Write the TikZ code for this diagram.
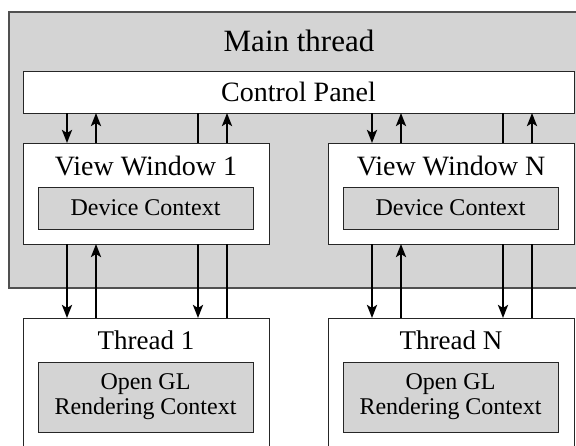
\documentclass[tikz,border=0pt]{standalone}
\usepackage{fontspec}
\setmainfont{Liberation Serif}
\usetikzlibrary{arrows.meta}
\definecolor{panelgray}{RGB}{212,212,212}
\definecolor{edgegray}{RGB}{80,80,80}
\newcommand{\sz}[1]{\fontsize{#1}{#1}\selectfont}

\begin{document}
\begin{tikzpicture}[
        x=1pt, y=-1pt,
        every node/.style={inner sep=0pt, outer sep=0pt},
        outerbox/.style={draw=edgegray, line width=1.6pt, fill=panelgray, anchor=north west},
        whitebox/.style={draw=black!85, line width=1pt, fill=white, anchor=north west},
        graybox/.style={draw=black!85, line width=1pt, fill=panelgray, anchor=north west},
        link/.style={line width=2.6pt},
        flow/.style={link, -{Stealth[length=13pt, width=10pt, inset=3pt]}}
    ]
    \useasboundingbox (0,0) rectangle (576,445);
    \clip (0,0) rectangle (576,445);
    \fill[white] (0,0) rectangle (576,445);

    % main thread
    \node[outerbox, minimum width=600pt, minimum height=276pt] (main) at (9,12) {};
    \node[font=\sz{31}] (maintitle) at (299,41) {Main thread};
    \node[whitebox, minimum width=551pt, minimum height=42pt, font=\sz{28}] (cp) at (23,71) {Control Panel};

    % view windows
    \node[whitebox, minimum width=246pt, minimum height=101pt] (vw1) at (23,143) {};
    \node[font=\sz{28}] (vw1title) at (146,166) {View Window 1};
    \node[graybox, minimum width=215pt, minimum height=42pt, font=\sz{24}] (dc1) at (38,187) {Device Context};
    \node[whitebox, minimum width=246pt, minimum height=101pt] (vwN) at (328,143) {};
    \node[font=\sz{28}] (vwNtitle) at (451,166) {View Window N};
    \node[graybox, minimum width=215pt, minimum height=42pt, font=\sz{24}] (dcN) at (343,187) {Device Context};

    % render threads
    \node[whitebox, minimum width=246pt, minimum height=160pt] (th1) at (23,318) {};
    \node[font=\sz{27}] (th1title) at (146,340) {Thread 1};
    \node[graybox, minimum width=215pt, minimum height=70pt, font=\sz{24}, align=center] (rc1) at (38,362) {Open GL\\[1pt]Rendering Context};
    \node[whitebox, minimum width=246pt, minimum height=160pt] (thN) at (328,318) {};
    \node[font=\sz{27}] (thNtitle) at (451,340) {Thread N};
    \node[graybox, minimum width=215pt, minimum height=70pt, font=\sz{24}, align=center] (rcN) at (343,362) {Open GL\\[1pt]Rendering Context};

    % messages
    \foreach \w in {1,N} {
        \foreach \dx/\k in {44/a, 73/b, 175/c, 204/d} {
            \coordinate (top\w\k) at ([xshift=\dx pt]vw\w.north west);
            \coordinate (bot\w\k) at ([xshift=\dx pt]vw\w.south west);
        }
        \draw[flow] (top\w a |- cp.south) -- (top\w a);
        \draw[flow] (top\w b) -- (top\w b |- cp.south);
        \draw[link] (top\w c) -- (top\w c |- cp.south);
        \draw[flow] (top\w d) -- (top\w d |- cp.south);
        \draw[flow] (bot\w a) -- (bot\w a |- th\w.north);
        \draw[flow] (bot\w b |- th\w.north) -- (bot\w b);
        \draw[flow] (bot\w c) -- (bot\w c |- th\w.north);
        \draw[link] (bot\w d) -- (bot\w d |- th\w.north);
    }
\end{tikzpicture}
\end{document}
